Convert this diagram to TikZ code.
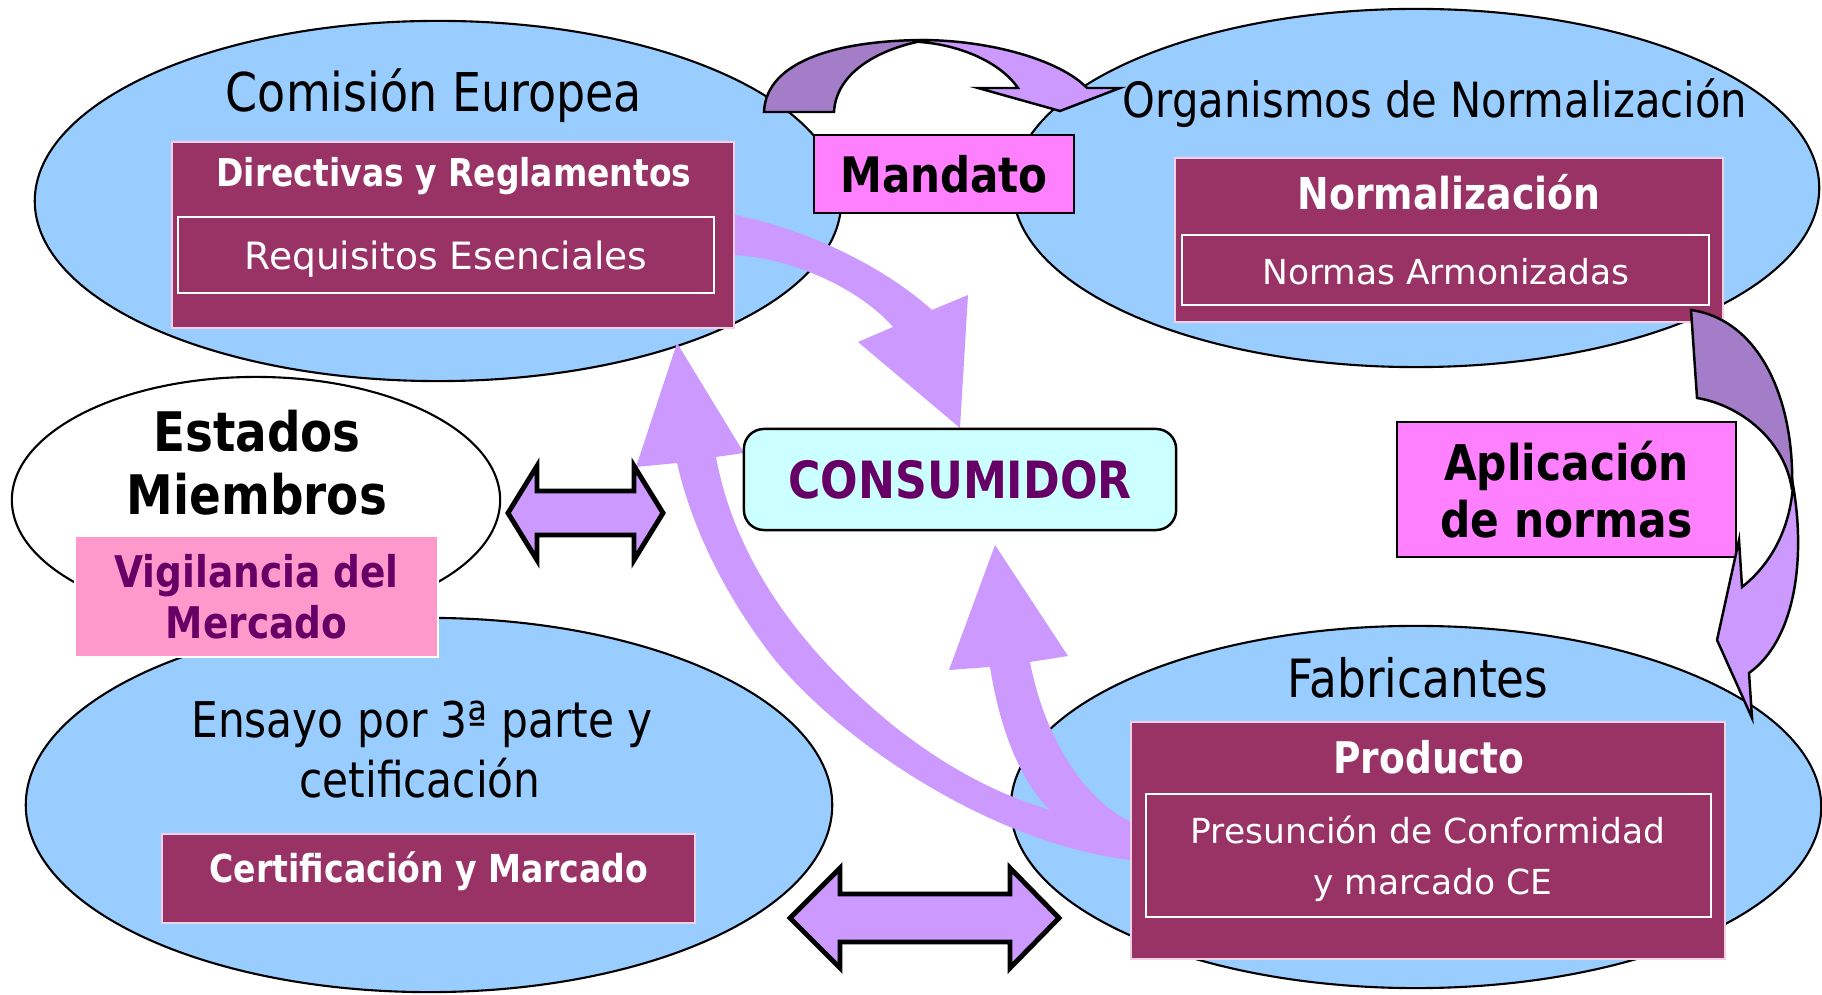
\documentclass[tikz,border=0pt]{standalone}
\usepackage{fontspec}
\setmainfont[FakeStretch=0.86]{DejaVu Sans}
\newfontfamily\plainsans{DejaVu Sans}
\usetikzlibrary{shapes.geometric}
\definecolor{bubbleblue}{HTML}{99CCFF}
\definecolor{winered}{HTML}{993366}
\definecolor{winerim}{HTML}{F2D0E4}
\definecolor{rosepink}{HTML}{FF99CC}
\definecolor{orchid}{HTML}{FF80FF}
\definecolor{lilac}{HTML}{CC99FF}
\definecolor{lilacdark}{HTML}{A47DC9}
\definecolor{mint}{HTML}{CCFFFF}
\definecolor{plum}{HTML}{660066}
\newcommand{\fsize}[2]{\fontsize{#1pt}{#2pt}\selectfont}
\begin{document}
\begin{tikzpicture}[x=0.01cm,y=-0.01cm,
    bubble/.style={ellipse,draw,line width=0.6pt,fill=bubbleblue,inner sep=0pt},
    winebox/.style={rectangle,draw=winerim,line width=0.5pt,fill=winered,inner sep=0pt},
    innerbox/.style={rectangle,draw=white,line width=0.6pt,inner sep=0pt},
    tagbox/.style={rectangle,draw,line width=0.7pt,fill=orchid,inner sep=0pt,align=center},
    title/.style={anchor=base,inner sep=0pt},
    blockarrow/.style={draw,line width=1.4pt,fill=lilac,line join=miter},
    bentarrow/.style={draw,line width=0.7pt,line join=miter}]
                \fill[white] (0,0) rectangle (1822,995);
                \useasboundingbox (0,0) rectangle (1822,995);
                \node[bubble,fill=white,minimum width=4.88cm,minimum height=2.46cm] (estados) at (256,500) {};
                \node[bubble,minimum width=8.06cm,minimum height=3.74cm] (ensayo) at (429,805) {};
                \node[bubble,minimum width=8.06cm,minimum height=3.6cm] (comision) at (438,201) {};
                \node[bubble,minimum width=8.06cm,minimum height=3.58cm] (organismos) at (1416,188) {};
                \node[bubble,minimum width=8.10cm,minimum height=3.62cm] (fabricantes) at (1416,807) {};
                \fill[lilac] (1131,860) .. controls (1000,845) and (850,750) .. (775,660)
                    .. controls (720,590) and (690,520) .. (677,463) -- (636,467) -- (677,343) -- (744,453) -- (716,457)
                    .. controls (735,560) and (800,650) .. (895,727) .. controls (950,770) and (1000,795) .. (1050,810)
                    -- (1131,822) -- cycle;
                \fill[lilac] (1131,822) .. controls (1085,800) and (1045,740) .. (1030,662) -- (1068,656) -- (995,545)
                    -- (949,670) -- (990,667) .. controls (1000,730) and (1020,780) .. (1050,810) -- (1131,845) -- cycle;
                \fill[lilac] (735,215) .. controls (805,229) and (882,265) .. (932,310) -- (968,295) -- (960,428)
                    -- (858,342) -- (893,327) .. controls (858,287) and (790,258) .. (735,255) -- cycle;
                \node[title,font=\fsize{15.2}{18}] (comisiontxt) at (434,112) {Comisión Europea};
                \node[title,font=\fsize{13.8}{16}] (organismostxt) at (1435,118) {Organismos de Normalización};
                \node[title,font=\fsize{15}{18}] (fabricantestxt) at (1418,698) {Fabricantes};
                \node[title,font=\fsize{14}{16}] (ensayotxt) at (422,738) {Ensayo por 3ª parte y};
                \node[title,font=\fsize{14}{16}] (cetificaciontxt) at (420,797) {cetificación};
                \node[title,font=\fsize{15.5}{18}\bfseries] (estadostxt) at (257,452) {Estados};
                \node[title,font=\fsize{15.5}{18}\bfseries] (miembrostxt) at (257,515) {Miembros};
                \node[winebox,minimum width=5.62cm,minimum height=1.86cm] (directivas) at (453,235) {};
                \node[innerbox,minimum width=5.36cm,minimum height=0.76cm] (requisitos) at (446,255) {};
                \node[title,font=\fsize{10.9}{13}\bfseries,text=white] (directivastxt) at (454,187) {Directivas y Reglamentos};
                \node[title,font=\plainsans\fsize{10.7}{13},text=white] (requisitostxt) at (446,270) {Requisitos Esenciales};
                \node[winebox,minimum width=5.48cm,minimum height=1.64cm] (normalizacion) at (1449,240) {};
                \node[innerbox,minimum width=5.27cm,minimum height=0.70cm] (normas) at (1445.5,270) {};
                \node[title,font=\fsize{12.5}{15}\bfseries,text=white] (normalizaciontxt) at (1449,210) {Normalización};
                \node[title,font=\plainsans\fsize{9.8}{12},text=white] (normastxt) at (1446,285) {Normas Armonizadas};
                \node[winebox,minimum width=5.94cm,minimum height=2.37cm] (producto) at (1428,840.5) {};
                \node[innerbox,minimum width=5.65cm,minimum height=1.23cm] (presuncion) at (1428.5,855.5) {};
                \node[title,font=\fsize{12.4}{15}\bfseries,text=white] (productotxt) at (1429,773) {Producto};
                \node[title,font=\plainsans\fsize{9.8}{12},text=white] (presunciontxt) at (1428,843) {Presunción de Conformidad};
                \node[title,font=\plainsans\fsize{9.8}{12},text=white] (marcadotxt) at (1433,894) {y marcado CE};
                \node[winebox,minimum width=5.33cm,minimum height=0.89cm] (certificacion) at (428.5,878.5) {};
                \node[title,font=\fsize{10.95}{13}\bfseries,text=white] (certificaciontxt) at (429,882) {Certificación y Marcado};
                \node[rectangle,draw=white,line width=0.5pt,fill=rosepink,minimum width=3.63cm,minimum height=1.21cm,
                    align=center,font=\fsize{12.4}{14.5}\bfseries,text=plum] (vigilancia) at (256.5,596.5) {Vigilancia del\\Mercado};
                \node[rectangle,rounded corners=0.2cm,draw,line width=0.7pt,fill=mint,minimum width=4.32cm,minimum height=1.01cm,
                    font=\fsize{14.6}{17}\bfseries,text=plum] (consumidor) at (960,479.5) {CONSUMIDOR};
                \node[tagbox,minimum width=2.60cm,minimum height=0.78cm,font=\fsize{13.9}{16}\bfseries] (mandato) at (944,174) {Mandato};
                \node[tagbox,minimum width=3.39cm,minimum height=1.35cm,font=\fsize{14}{16.2}\bfseries] (aplicacion) at (1566.5,489.5) {Aplicación\\de normas};
                \filldraw[bentarrow,fill=lilacdark] (764,112) .. controls (766,60) and (840,40) .. (927,40)
                    .. controls (880,48) and (836,72) .. (834,112) -- cycle;
                \filldraw[bentarrow,fill=lilac] (920,40) .. controls (990,40) and (1060,60) .. (1087,88) -- (1120,88)
                    -- (1060,111) -- (978,88) -- (1018,88) .. controls (1000,62) and (960,45) .. (920,42) -- cycle;
                \filldraw[bentarrow,fill=lilacdark] (1691,310) -- (1697,398) .. controls (1740,405) and (1785,440) .. (1792,490)
                    .. controls (1795,400) and (1760,320) .. (1691,310) -- cycle;
                \filldraw[bentarrow,fill=lilac] (1793,485) .. controls (1806,560) and (1795,640) .. (1749,673) -- (1752,718)
                    -- (1717,640) -- (1739,540) -- (1742,587) .. controls (1770,565) and (1790,530) .. (1793,485) -- cycle;
                \filldraw[blockarrow] (508,513) -- (537,466) -- (537,491) -- (634,491) -- (634,466) -- (663,513)
                    -- (634,560) -- (634,535) -- (537,535) -- (537,560) -- cycle;
                \filldraw[blockarrow] (790,918) -- (840,868) -- (840,894) -- (1010,894) -- (1010,868) -- (1059,918)
                    -- (1010,968) -- (1010,942) -- (840,942) -- (840,968) -- cycle;
            \end{tikzpicture}
\end{document}
